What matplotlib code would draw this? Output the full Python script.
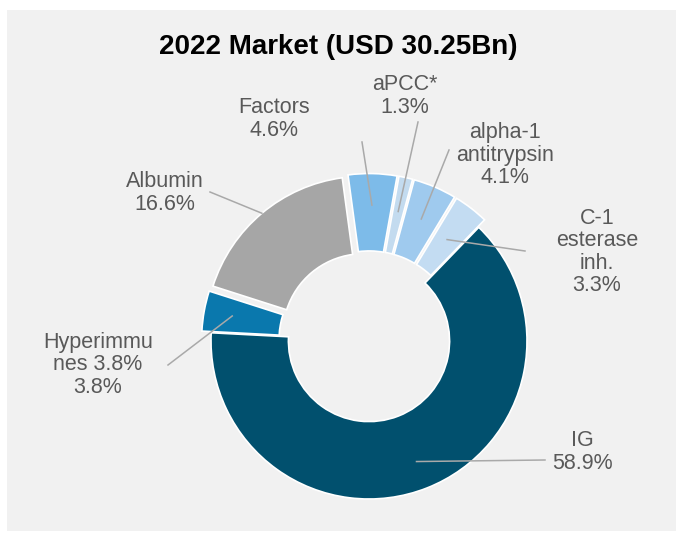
import matplotlib
matplotlib.use("Agg")
import matplotlib.pyplot as plt
import numpy as np
from matplotlib.patches import Rectangle
from matplotlib import font_manager

# market share by product class, 2022
segments = ["IG", "Hyperimmunes", "Albumin", "Factors", "aPCC*", "alpha-1 antitrypsin", "C-1 esterase inh."]
shares = [58.9, 3.8, 16.6, 4.6, 1.3, 4.1, 3.3]
labels = ["IG\n58.9%", "Hyperimmu\nnes 3.8%\n3.8%", "Albumin\n16.6%", "Factors\n4.6%",
          "aPCC*\n1.3%", "alpha-1\nantitrypsin\n4.1%", "C-1\nesterase\ninh.\n3.3%"]
colors = ["#01506e", "#0a78ad", "#a6a6a6", "#7dbbe9", "#c3dbef", "#9fcaee", "#c3dcf2"]
explode = [0, 0.06, 0.055, 0.06, 0.06, 0.06, 0.06]

# label placement (pixel coords, y from top) and leader line ends
text_pos = [(582, 452), (98, 365), (165, 193), (274, 119), (405, 96), (505, 155), (597, 252)]
line_end = [(545, 460), (168, 365), (210, 192), (362, 142), (418, 122), (449, 150), (525, 251)]
anchor_r = [0.82, 0.82, 1.0, 0.8, 0.78, 0.78, 0.75]

W, H = 676, 533
names = {f.name for f in font_manager.fontManager.ttflist}
title_font = "Liberation Sans Narrow" if "Liberation Sans Narrow" in names else "Liberation Sans"
title_size = 24 if title_font == "Liberation Sans Narrow" else 20

fig = plt.figure(figsize=(W / 100, H / 100), dpi=100, facecolor="white")
ax = fig.add_axes([0, 0, 1, 1])

ax.add_patch(Rectangle((7, 2), W - 7, H - 12, facecolor="#f1f1f1", edgecolor="none", zorder=0))

# pie() takes explode in data units, so scale it by the radius
cx, cy, R = 369, H - 341, 158
wedges, _ = ax.pie(shares, colors=colors, explode=[e * R for e in explode], startangle=46,
                   counterclock=False, center=(cx, cy), radius=R, frame=True,
                   wedgeprops=dict(width=R * 0.49, edgecolor="white", linewidth=1.2))
ax.set_xlim(0, W)
ax.set_ylim(0, H)
ax.set_aspect("equal")
ax.axis("off")

for w, lab, (tx, ty), (ex, ey), ar in zip(wedges, labels, text_pos, line_end, anchor_r):
    mid = np.deg2rad((w.theta1 + w.theta2) / 2)
    wx, wy = w.center
    ax0 = wx + R * ar * np.cos(mid)
    ay0 = wy + R * ar * np.sin(mid)
    ax.plot([ax0, ex], [ay0, H - ey], color="#a9a9a9", lw=1.1, zorder=5)
    ax.text(tx, H - ty, lab, ha="center", va="center", fontsize=15.5, color="#595959",
            family="Liberation Sans", linespacing=1.1)

ax.text(W / 2, H - 47, "2022 Market (USD 30.25Bn)", ha="center", va="center",
        fontsize=title_size, fontweight="bold", family=title_font, color="black")

fig.savefig("out.png", dpi=100, facecolor="white")
